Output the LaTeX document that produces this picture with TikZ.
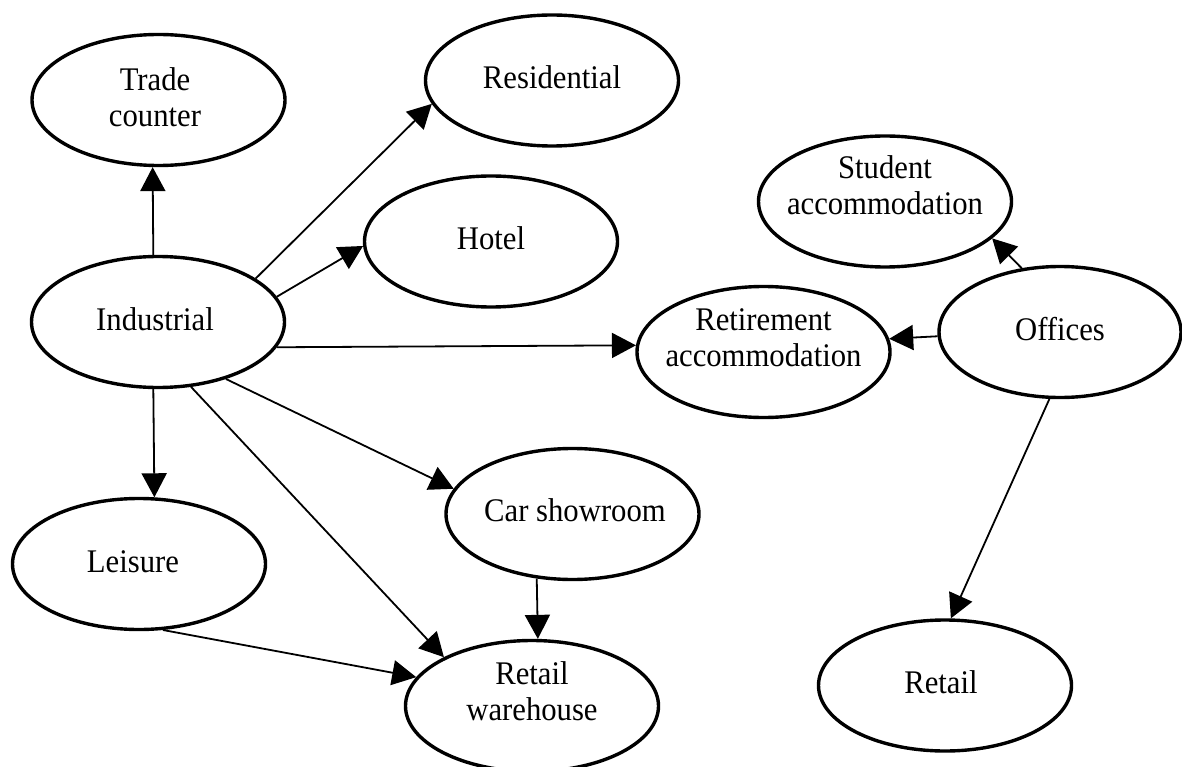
\documentclass[tikz,border=0pt]{standalone}
\usepackage{fontspec}
\setmainfont{Liberation Serif}[FakeStretch=0.93]
\usetikzlibrary{shapes.geometric,arrows.meta}
\begin{document}
\begin{tikzpicture}[x=1pt,y=-1pt,
  oval/.style={draw,ellipse,line width=3.4pt,minimum width=253pt,minimum height=131pt,inner sep=0pt},
  lbl/.style={anchor=base,align=center,inner sep=0pt,font=\fontsize{33}{36}\selectfont},
  conn/.style={line width=1.8pt,-{Triangle[length=24pt,width=25pt]}}]
\useasboundingbox (0,0) rectangle (1182,767);
% ellipses
\node[oval] (tc)  at (158.5,100) {};
\node[oval] (res) at (552,80.5) {};
\node[oval] (hot) at (491,241.5) {};
\node[oval] (ind) at (158,322) {};
\node[oval] (ret) at (763.5,352) {};
\node[oval] (stu) at (885,201.5) {};
\node[oval,minimum width=242pt] (off) at (1060,332) {};
\node[oval] (car) at (572.5,514) {};
\node[oval] (lei) at (139,564) {};
\node[oval] (rw)  at (532,706) {};
\node[oval] (rtl) at (945,685.5) {};
% labels (base = baseline of last line)
\node[lbl] (tc-t)  at (155,127) {Trade\\counter};
\node[lbl] (res-t) at (552,89) {Residential};
\node[lbl] (hot-t) at (491,250) {Hotel};
\node[lbl] (ind-t) at (155,330) {Industrial};
\node[lbl] (ret-t) at (763.5,366.7) {Retirement\\accommodation};
\node[lbl] (stu-t) at (885,215) {Student\\accommodation};
\node[lbl] (off-t) at (1060,340) {Offices};
\node[lbl] (car-t) at (575,521.7) {Car showroom};
\node[lbl] (lei-t) at (133,572.7) {Leisure};
\node[lbl] (rw-t)  at (532,720.7) {Retail\\warehouse};
\node[lbl] (rtl-t) at (941,693) {Retail};
% connectors
\draw[conn] (ind.94.3) -- (tc.265.2);
\draw[conn] (ind.24.9) -- (res.191.4);
\draw[conn] (ind.12.3) -- (hot.182.5);
\draw[conn] (ind.348.1) -- (ret.177.7);
\draw[conn] (ind.266.5) -- (lei.77.2);
\draw[conn] (ind.297.9) -- (rw.151.4);
\draw[conn] (ind.320.8) -- (car.168.4);
\draw[conn] (car.241.4) -- (rw.85.7);
\draw[conn] (lei.290) -- (rw.166.5);
\draw[conn] (off.121) -- (stu.341.1);
\draw[conn] (off.182.4) -- (ret.6.8);
\draw[conn] (off.261.5) -- (rtl.85.7);
\end{tikzpicture}
\end{document}
